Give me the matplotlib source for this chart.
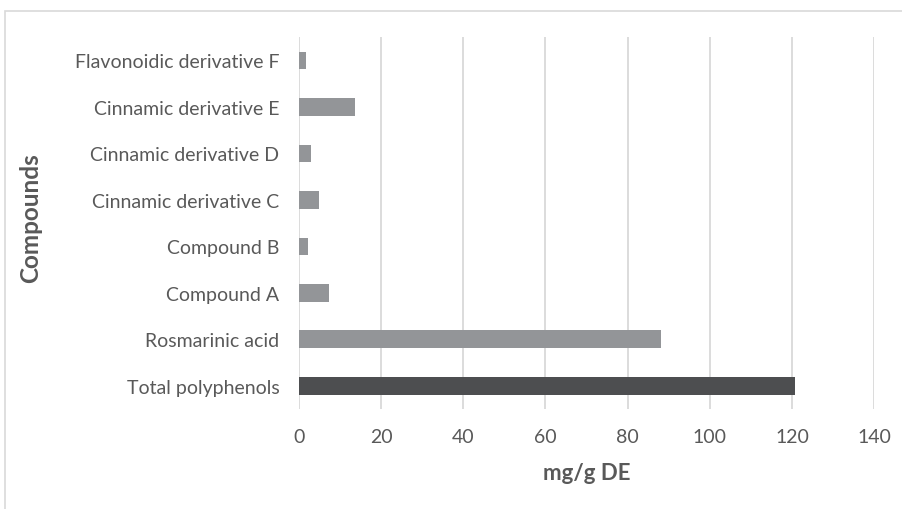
import matplotlib.pyplot as plt
import matplotlib.patches as mpatches

plt.switch_backend('agg')

compounds = ['Total polyphenols', 'Rosmarinic acid', 'Compound A', 'Compound B',
             'Cinnamic derivative C', 'Cinnamic derivative D', 'Cinnamic derivative E',
             'Flavonoidic derivative F']
values = [120.8, 88.2, 7.4, 2.2, 4.9, 3.0, 13.6, 1.8]
bar_colors = ['#4d4e50'] + ['#939598'] * 7
xticks = [0, 20, 40, 60, 80, 100, 120, 140]

plt.rcParams['font.family'] = ['Lato', 'DejaVu Sans']

fig = plt.figure(figsize=(9.03, 5.10), dpi=100)
ax = fig.add_axes([0.331, 0.196, 0.637, 0.729])

ax.barh(range(len(compounds)), values, height=0.38, color=bar_colors, zorder=3)

ax.set_xlim(0, 140)
ax.set_ylim(-0.5, len(compounds) - 0.5)
ax.set_xticks(xticks)
ax.set_yticks(range(len(compounds)))
ax.set_yticklabels(compounds)
ax.tick_params(axis='both', length=0, labelsize=14, labelcolor='#595959')
ax.tick_params(axis='x', pad=14)
ax.tick_params(axis='y', pad=14)
ax.grid(axis='x', color='#d9d9d9', linewidth=1.3, zorder=0)
for s in ax.spines.values():
    s.set_visible(False)

ax.set_xlabel('mg/g DE', fontsize=16, fontweight='bold', color='#595959', labelpad=12)
fig.text(0.034, 0.572, 'Compounds', rotation=90, fontsize=17.5, fontweight='bold',
         color='#595959', ha='center', va='center')

# chart frame
frame = mpatches.Rectangle((5 / 903, -0.1), 1.1, 1.1 - 12 / 510, transform=fig.transFigure,
                           fill=False, edgecolor='#d9d9d9', linewidth=1.2)
fig.patches.append(frame)

plt.savefig('out.png', dpi=100)
plt.close()
